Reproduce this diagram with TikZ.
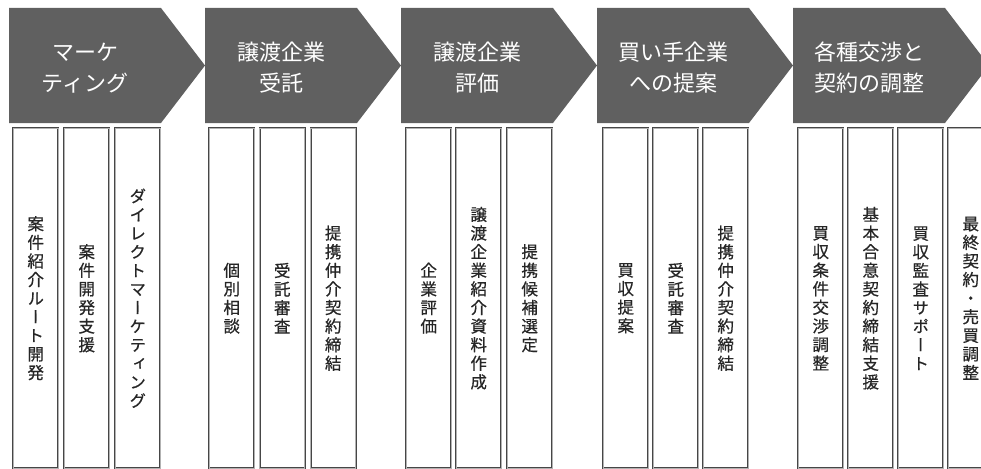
\documentclass[tikz,border=0pt]{standalone}
\usepackage{fontspec}
\setmainfont{Noto Sans CJK JP}
\newfontfamily\tatefont[RawFeature=+vert, FakeBold=0.6]{Noto Sans CJK JP}
\definecolor{phasegray}{RGB}{96,96,96}
\definecolor{edgegray}{RGB}{70,70,70}
\tikzset{
    phasetext/.style={text=white, align=center, inner sep=0pt,
        font=\fontsize{22}{31}\selectfont},
    task/.style={draw=edgegray, double=black!30, double distance=0.7pt, line width=0.45pt,
        minimum width=45pt, minimum height=340pt, inner sep=0pt, anchor=north west,
        align=center, text=black!85, font=\tatefont\fontsize{16.5}{18.6}\selectfont}}
\makeatletter
\def\tate#1{\tate@a#1\relax}
\def\tate@a#1#2{#1\ifx\relax#2\else\\\expandafter\tate@a\expandafter#2\fi}
\makeatother

\begin{document}
\begin{tikzpicture}[x=1pt, y=-1pt]
    \useasboundingbox (0,0) rectangle (981,468);
    \clip (0,0) rectangle (981,468);
    % phases
    \foreach \i/\txt in {1/{マーケ\\ティング}, 2/{譲渡企業\\受託}, 3/{譲渡企業\\評価},
                         4/{買い手企業\\への提案}, 5/{各種交渉と\\契約の調整}} {
        \fill[phasegray] (196*\i-187,8) -- ++(152,0) -- ++(44,57.5) -- ++(-44,57.5)
            -- ++(-152,0) -- cycle;
        \node[phasetext] (p\i) at (196*\i-111,68) {\txt};
    }
    % tasks
    \node[task] (t11) at (13,128) {\tate{案件紹介ルート開発}};
    \node[task] (t12) at (64,128) {\tate{案件開発支援}};
    \node[task] (t13) at (115,128) {\tate{ダイレクトマーケティング}};
    \node[task] (t21) at (209,128) {\tate{個別相談}};
    \node[task] (t22) at (259.5,128) {\tate{受託審査}};
    \node[task] (t23) at (310.5,128) {\tate{提携仲介契約締結}};
    \node[task] (t31) at (406,128) {\tate{企業評価}};
    \node[task] (t32) at (456,128) {\tate{譲渡企業紹介資料作成}};
    \node[task] (t33) at (507,128) {\tate{提携候補選定}};
    \node[task] (t41) at (603,128) {\tate{買収提案}};
    \node[task] (t42) at (653,128) {\tate{受託審査}};
    \node[task] (t43) at (703,128) {\tate{提携仲介契約締結}};
    \node[task] (t51) at (798,128) {\tate{買収条件交渉調整}};
    \node[task] (t52) at (848,128) {\tate{基本合意契約締結支援}};
    \node[task] (t53) at (898,128) {\tate{買収監査サポート}};
    \node[task] (t54) at (948,128) {\tate{最終契約・売買調整}};
\end{tikzpicture}
\end{document}
